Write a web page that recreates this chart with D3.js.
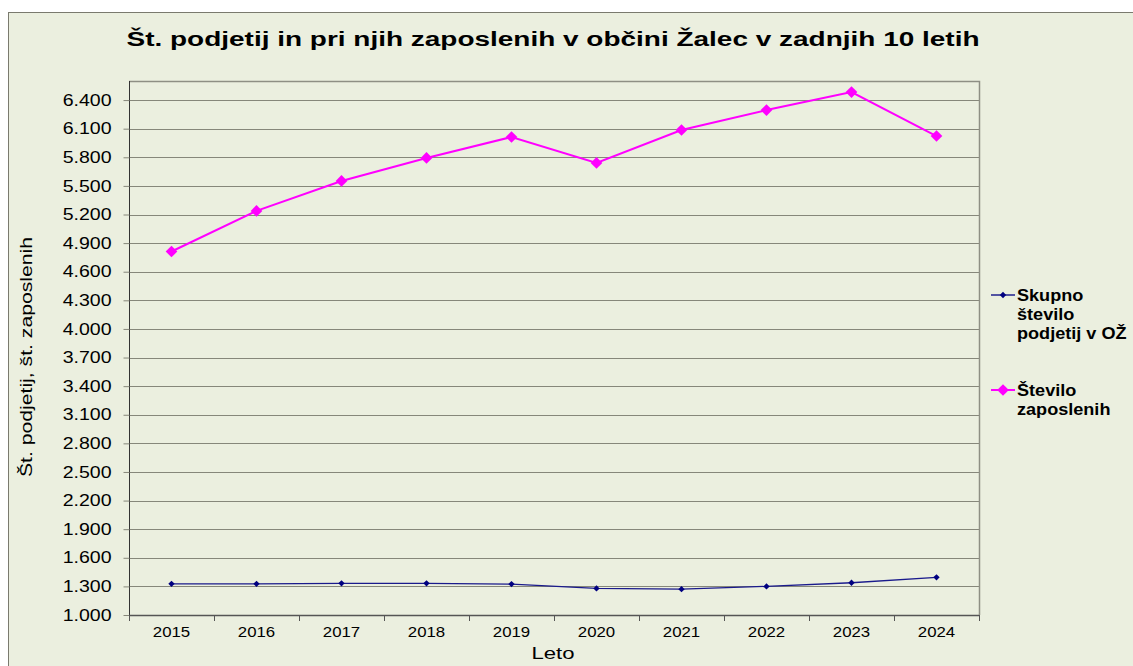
<!DOCTYPE html>
<html>
<head>
<meta charset="utf-8">
<script src="https://cdn.jsdelivr.net/npm/d3@7"></script>
<style>
  body { margin: 0; background: #fff; }
  svg { display: block; font-family: "Liberation Sans", Arial, sans-serif; }
</style>
</head>
<body>
<svg id="chart" width="1133" height="666"></svg>
<script>
// data
var years = ['2015', '2016', '2017', '2018', '2019', '2020', '2021', '2022', '2023', '2024'];
var podjetja = [1327, 1327, 1332, 1332, 1324, 1279, 1271, 1300, 1338, 1395];
var zaposleni = [4812, 5238, 5552, 5793, 6013, 5741, 6086, 6295, 6484, 6023];
var yTicks = d3.range(1000, 6401, 300);

var svg = d3.select('#chart');
var bg = '#ebefdf';

// the original picture is stretched sideways, so text gets widened too
function stretch(sel, k) {
    sel.each(function () {
        var w = this.getComputedTextLength();
        d3.select(this).attr('textLength', w * k).attr('lengthAdjust', 'spacingAndGlyphs');
    });
}

// chart area with border
svg.append('rect')
    .attr('x', 8.5).attr('y', 12.5)
    .attr('width', 1140).attr('height', 670)
    .attr('fill', bg).attr('stroke', '#7a7a6e');

var pLeft = 129, pRight = 979, pTop = 81, pBottom = 615;

var x = d3.scaleBand().domain(years).range([pLeft, pRight]);
var y = d3.scaleLinear().domain([1000, 6600]).range([pBottom, pTop]);

var fmt = function (d) { return (d / 1000).toFixed(3); };

// grid
svg.append('g')
    .selectAll('line')
    .data(yTicks.slice(1))
    .enter().append('line')
    .attr('x1', pLeft).attr('x2', pRight)
    .attr('y1', function (d) { return Math.round(y(d)) + 0.5; })
    .attr('y2', function (d) { return Math.round(y(d)) + 0.5; })
    .attr('stroke', '#86877a').attr('stroke-width', 1.2);

// plot frame top/right
svg.append('path')
    .attr('d', 'M' + pLeft + ',' + (pTop + 0.5) + 'H' + (pRight + 0.5) + 'V' + pBottom)
    .attr('fill', 'none').attr('stroke', '#8e8f84').attr('stroke-width', 1.5);

// y axis
var yAxis = svg.append('g')
    .attr('transform', 'translate(' + (pLeft + 0.5) + ',0)')
    .call(d3.axisLeft(y).tickValues(yTicks).tickSize(6).tickPadding(12).tickFormat(fmt));
yAxis.select('.domain').attr('stroke', '#333').attr('d', 'M0,' + pBottom + 'V' + pTop);
yAxis.selectAll('.tick line').attr('stroke', '#86877a');
yAxis.selectAll('.tick text').attr('font-size', 16).attr('fill', '#000')
    .attr('font-family', '"Liberation Sans", Arial, sans-serif')
    .call(stretch, 1.22);

// x axis, ticks between categories
var xAxis = svg.append('g')
    .attr('transform', 'translate(0,' + (pBottom + 0.5) + ')')
    .call(d3.axisBottom(x).tickSize(0).tickPadding(11));
xAxis.select('.domain').attr('stroke', '#555').attr('stroke-width', 1.5)
    .attr('d', 'M' + pLeft + ',0H' + pRight);
xAxis.selectAll('.tick text').attr('font-size', 15).attr('fill', '#000')
    .attr('font-family', '"Liberation Sans", Arial, sans-serif')
    .call(stretch, 1.12);
svg.append('g')
    .selectAll('line')
    .data(years.concat(['end']))
    .enter().append('line')
    .attr('x1', function (d, i) { return Math.round(pLeft + i * x.step()) + 0.5; })
    .attr('x2', function (d, i) { return Math.round(pLeft + i * x.step()) + 0.5; })
    .attr('y1', pBottom).attr('y2', pBottom + 6)
    .attr('stroke', '#555');

// series
function cx(d, i) { return x(years[i]) + x.bandwidth() / 2; }

var lineGen = d3.line().x(cx).y(function (d) { return y(d); });

// square diamonds (rotated squares)
var smallMark = d3.symbol().type(d3.symbolSquare).size(20);
var bigMark = d3.symbol().type(d3.symbolSquare).size(68);

svg.append('path').datum(podjetja)
    .attr('d', lineGen).attr('fill', 'none')
    .attr('stroke', '#1a1a8c').attr('stroke-width', 1.3);
svg.append('g').selectAll('path').data(podjetja).enter().append('path')
    .attr('d', smallMark)
    .attr('transform', function (d, i) { return 'translate(' + cx(d, i) + ',' + y(d) + ') rotate(45)'; })
    .attr('fill', '#000080');

svg.append('path').datum(zaposleni)
    .attr('d', lineGen).attr('fill', 'none')
    .attr('stroke', '#ff00ff').attr('stroke-width', 2);
svg.append('g').selectAll('path').data(zaposleni).enter().append('path')
    .attr('d', bigMark)
    .attr('transform', function (d, i) { return 'translate(' + cx(d, i) + ',' + y(d) + ') rotate(45)'; })
    .attr('fill', '#ff00ff');

// title
svg.append('text')
    .attr('x', 553).attr('y', 46)
    .attr('text-anchor', 'middle')
    .attr('font-size', 20).attr('font-weight', 'bold')
    .attr('textLength', 853).attr('lengthAdjust', 'spacingAndGlyphs')
    .text('Št. podjetij in pri njih zaposlenih v občini Žalec v zadnjih 10 letih');

// axis titles
svg.append('text')
    .attr('x', 553).attr('y', 659)
    .attr('text-anchor', 'middle').attr('font-size', 17)
    .text('Leto')
    .call(stretch, 1.3);
svg.append('text')
    .attr('transform', 'translate(32,357) rotate(-90)')
    .attr('text-anchor', 'middle').attr('font-size', 16)
    .attr('textLength', 240).attr('lengthAdjust', 'spacingAndGlyphs')
    .text('Št. podjetij, št. zaposlenih');

// legend
var legend = [
    { lines: ['Skupno', 'število', 'podjetij v OŽ'], color: '#000080', mark: smallMark, w: 1.3, y: 295 },
    { lines: ['Število', 'zaposlenih'], color: '#ff00ff', mark: bigMark, w: 2, y: 390 }
];
var lg = svg.append('g').selectAll('g').data(legend).enter().append('g')
    .attr('transform', function (d) { return 'translate(991,' + d.y + ')'; });
lg.append('line').attr('x1', 0).attr('x2', 24)
    .attr('stroke', function (d) { return d.color; })
    .attr('stroke-width', function (d) { return d.w; });
lg.append('path')
    .attr('d', function (d) { return d.mark(); })
    .attr('transform', 'translate(12,0) rotate(45)')
    .attr('fill', function (d) { return d.color; });
lg.each(function (d) {
    var g = d3.select(this);
    d.lines.forEach(function (s, i) {
        g.append('text')
            .attr('x', 26).attr('y', i * 19)
            .attr('dy', '0.35em')
            .attr('font-size', 16).attr('font-weight', 'bold')
            .text(s)
            .call(stretch, 1.13);
    });
});
</script>
</body>
</html>
